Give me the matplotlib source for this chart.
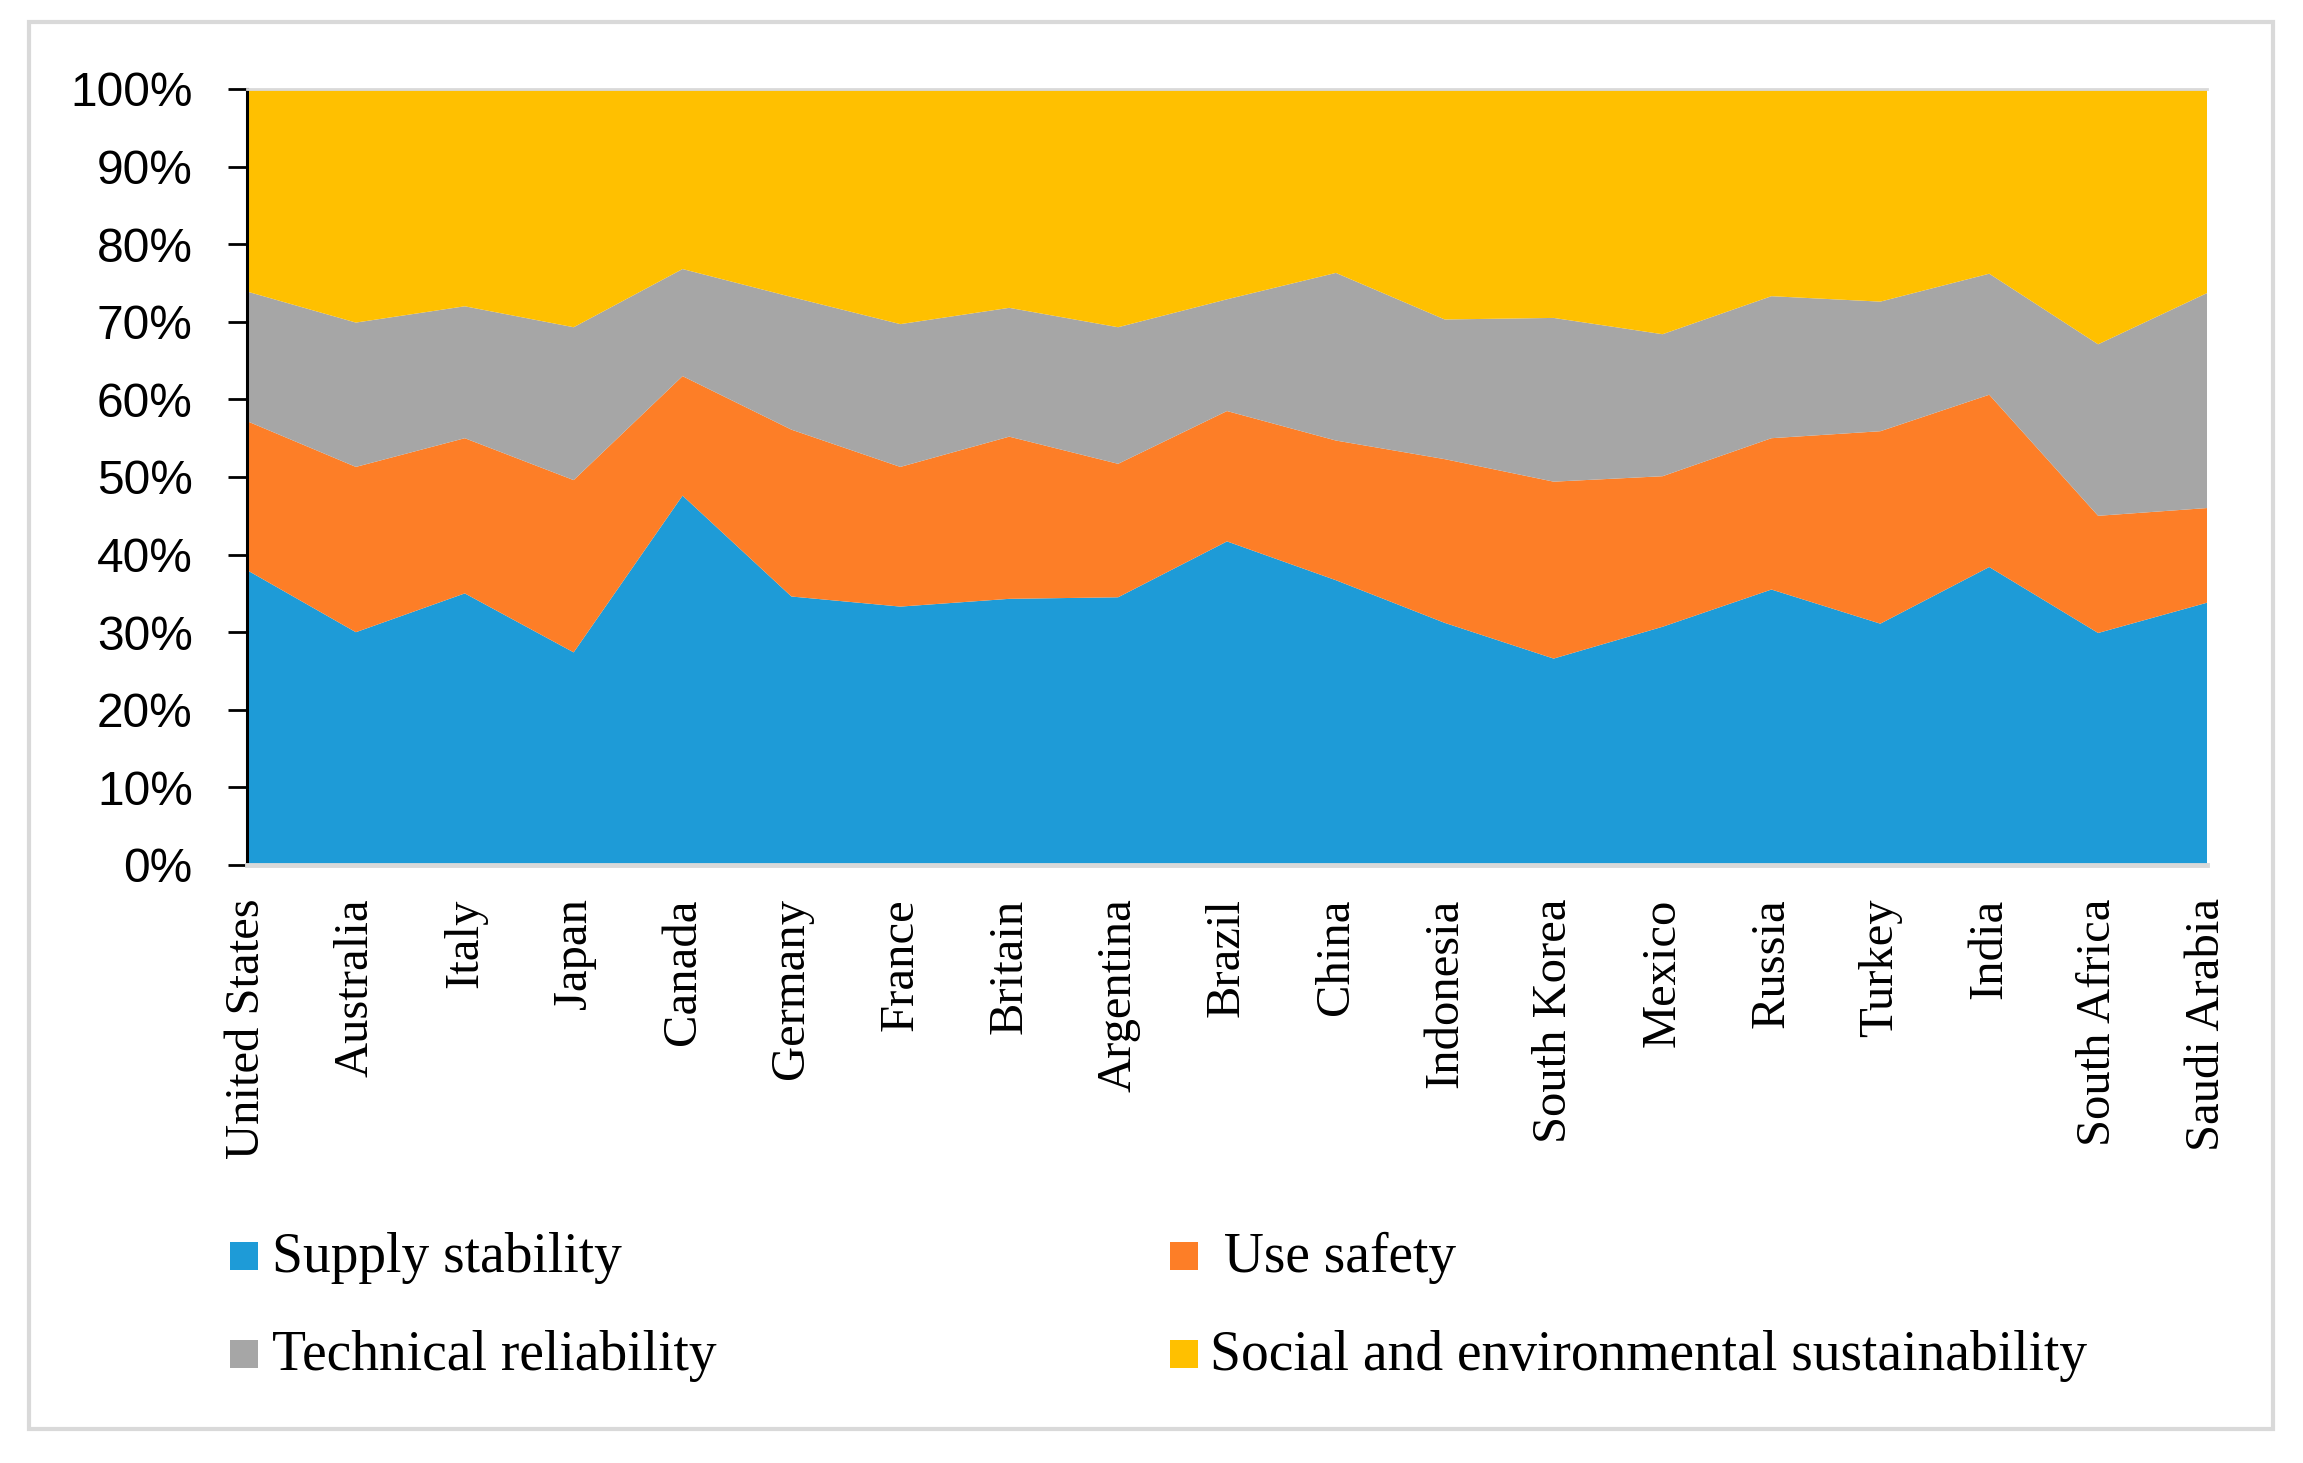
import numpy as np
import matplotlib
matplotlib.use("Agg")
import matplotlib.pyplot as plt
from matplotlib import ticker
from matplotlib.patches import Rectangle

countries = ["United States", "Australia", "Italy", "Japan", "Canada", "Germany",
             "France", "Britain", "Argentina", "Brazil", "China", "Indonesia",
             "South Korea", "Mexico", "Russia", "Turkey", "India", "South Africa",
             "Saudi Arabia"]

# shares in percent
supply_stability = [38.0, 30.0, 35.0, 27.4, 47.6, 34.6, 33.3, 34.3, 34.5, 41.7,
                    36.7, 31.2, 26.6, 30.7, 35.5, 31.1, 38.4, 29.9, 33.8]
use_safety = [19.2, 21.3, 20.0, 22.2, 15.4, 21.5, 18.0, 20.9, 17.2, 16.8,
              18.0, 21.1, 22.8, 19.4, 19.5, 24.8, 22.2, 15.1, 12.2]
technical_reliability = [16.7, 18.6, 17.0, 19.7, 13.8, 17.1, 18.4, 16.6, 17.6, 14.4,
                         21.6, 18.0, 21.1, 18.3, 18.3, 16.7, 15.6, 22.1, 27.7]
social_env = [26.1, 30.1, 28.0, 30.7, 23.2, 26.8, 30.3, 28.2, 30.7, 27.1,
              23.7, 29.7, 29.5, 31.6, 26.7, 27.4, 23.8, 32.9, 26.3]

series_names = ["Supply stability", " Use safety", "Technical reliability",
                "Social and environmental sustainability"]
colors = ["#1E9BD7", "#FD7E27", "#A6A6A6", "#FFC000"]

W, H = 2303, 1463
fig = plt.figure(figsize=(W / 100, H / 100), dpi=100)


def fx(px):
    return px / W


def fy(py):
    return 1 - py / H


ax = fig.add_axes([fx(247), fy(865), fx(2207) - fx(247), fy(89) - fy(865)])

x = np.arange(len(countries))
ax.stackplot(x, supply_stability, use_safety, technical_reliability, social_env,
             colors=colors, linewidth=0)

ax.set_xlim(0, len(countries) - 1)
ax.set_ylim(0, 100)
ax.set_yticks(np.arange(0, 101, 10))
ax.yaxis.set_major_formatter(ticker.PercentFormatter(decimals=0))
ax.set_xticks(x)
ax.set_xticklabels(countries, rotation=90, family="Liberation Serif", fontsize=35)

for lab in ax.get_yticklabels():
    lab.set_family("Liberation Sans")
    lab.set_fontsize(34.5)

ax.tick_params(axis="y", length=14, width=2, direction="out", pad=25, color="black")
ax.tick_params(axis="x", length=0, pad=24)

ax.spines["left"].set_color("black")
ax.spines["left"].set_linewidth(2.2)
ax.spines["right"].set_visible(False)
ax.spines["top"].set_color("#D9D9D9")
ax.spines["top"].set_linewidth(2)
ax.spines["bottom"].set_color("#D9D9D9")
ax.spines["bottom"].set_linewidth(3.5)

# outer frame
fig.add_artist(Rectangle((fx(29), fy(1429)), fx(2273) - fx(29), fy(22) - fy(1429),
                         transform=fig.transFigure, fill=False,
                         edgecolor="#D9D9D9", linewidth=3))

# legend, 2 x 2 grid
marker_x = [230, 1170]
text_x = [272, 1210]
row_base = [1270, 1368]
order = [(0, 0), (0, 1), (1, 0), (1, 1)]
for (row, col), name, c in zip(order, series_names, colors):
    fig.add_artist(Rectangle((fx(marker_x[col]), fy(row_base[row])),
                             fx(28), fy(0) - fy(28),
                             transform=fig.transFigure, facecolor=c, edgecolor="none"))
    fig.text(fx(text_x[col]), fy(row_base[row] + 2), name, family="Liberation Serif",
             fontsize=40, va="baseline", ha="left")

fig.savefig("out.png", dpi=100)
